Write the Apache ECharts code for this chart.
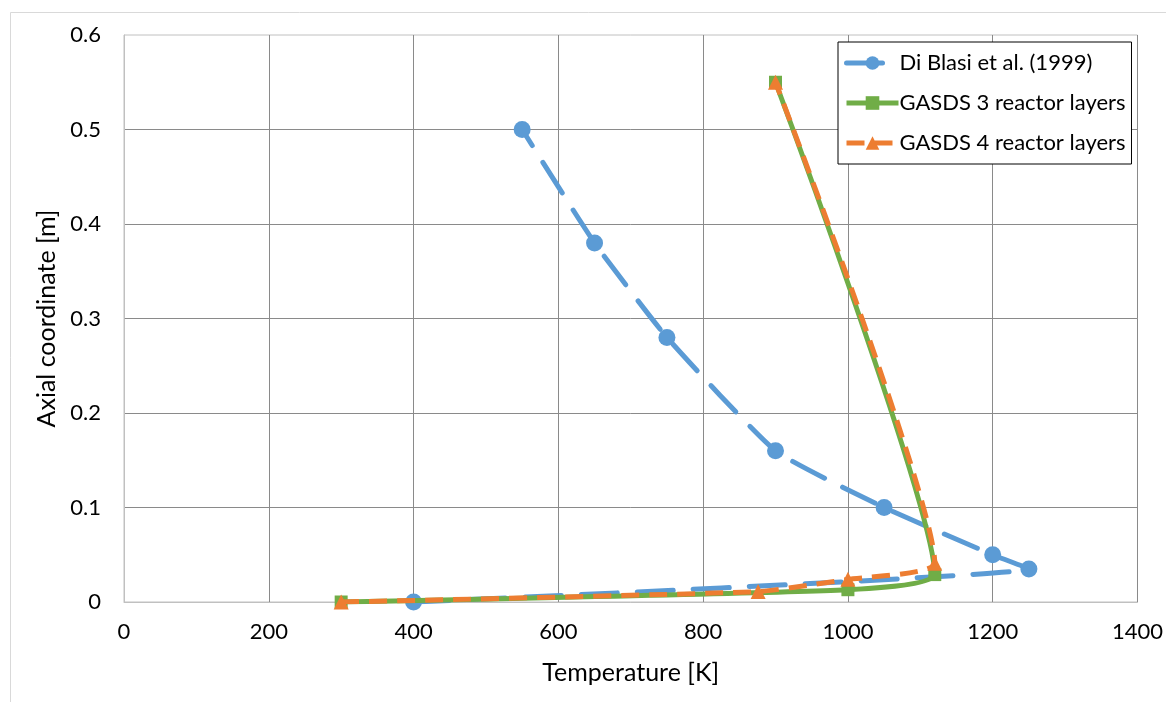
<!DOCTYPE html>
<html>
<head>
<meta charset="utf-8">
<script src="https://cdn.jsdelivr.net/npm/echarts@6/dist/echarts.min.js"></script>
<style>
html,body{margin:0;padding:0;background:#fff;}
#c{width:1166px;height:702px;}
</style>
</head>
<body>
<div id="c"></div>
<script>
// Data
const seriesNames = ['Di Blasi et al. (1999)', 'GASDS 3 reactor layers', 'GASDS 4 reactor layers'];
const diBlasiT = [400, 1250, 1200, 1050, 900, 750, 650, 550];
const diBlasiZ = [0, 0.035, 0.05, 0.1, 0.16, 0.28, 0.38, 0.5];
const gasds3T = [300, 1000, 1120, 900];
const gasds3Z = [0, 0.013, 0.029, 0.55];
const gasds4T = [300, 876, 1000, 1120, 900];
const gasds4Z = [0, 0.011, 0.024, 0.041, 0.55];
const xTicks = [0, 200, 400, 600, 800, 1000, 1200, 1400];
const yTicks = [0, 0.1, 0.2, 0.3, 0.4, 0.5, 0.6];

const zip = (a, b) => a.map((v, i) => [v, b[i]]);
const FONT = 'Lato';
const colors = ['#5B9BD5', '#70AD47', '#ED7D31'];
const dashes = [[36, 20], 'solid', [18, 10]];

const chart = echarts.init(document.getElementById('c'), null, {renderer: 'canvas'});
chart.setOption({
  backgroundColor: '#fff',
  animation: false,
  textStyle: {fontFamily: FONT},
  graphic: [{
    type: 'rect', left: 8, top: 10, shape: {width: 1300, height: 900},
    style: {fill: 'none', stroke: '#d9d9d9', lineWidth: 1}, z: -10
  }],
  grid: {left: 124, top: 35, width: 1016, height: 567, show: true, borderColor: '#c0c0c0', borderWidth: 1},
  legend: {
    orient: 'vertical', left: 838, top: 42,
    padding: [10, 6, 10, 6], itemGap: 18, itemWidth: 52, itemHeight: 17,
    borderColor: '#000', borderWidth: 1, backgroundColor: '#fff',
    textStyle: {fontFamily: FONT, fontSize: 22, color: '#000', padding: [0, 0, 0, -4]},
    data: seriesNames.map((n, i) => ({name: n, lineStyle: {width: 5, color: colors[i], type: dashes[i]}}))
  },
  xAxis: {
    type: 'value', min: xTicks[0], max: xTicks[xTicks.length - 1], interval: 200,
    name: 'Temperature [K]', nameLocation: 'middle', nameGap: 58,
    nameTextStyle: {fontFamily: FONT, fontSize: 25, color: '#000'},
    axisLine: {show: true, lineStyle: {color: '#c0c0c0'}},
    axisTick: {show: false},
    axisLabel: {fontFamily: FONT, fontSize: 22, color: '#000', margin: 19, formatter: v => String(v)},
    splitLine: {show: true, showMinLine: false, lineStyle: {color: '#8a8a8a', width: 1}}
  },
  yAxis: {
    type: 'value', min: yTicks[0], max: yTicks[yTicks.length - 1], interval: 0.1,
    name: 'Axial coordinate [m]', nameLocation: 'middle', nameGap: 64, nameRotate: 90,
    nameTextStyle: {fontFamily: FONT, fontSize: 25, color: '#000'},
    axisLine: {show: true, lineStyle: {color: '#c0c0c0'}},
    axisTick: {show: false},
    axisLabel: {fontFamily: FONT, fontSize: 22, color: '#000', margin: 23,
      formatter: v => (v === 0 ? '0' : v.toFixed(1))},
    splitLine: {show: true, showMinLine: false, showMaxLine: false, lineStyle: {color: '#8a8a8a', width: 1}}
  },
  series: [
    {
      name: seriesNames[0], type: 'line', data: zip(diBlasiT, diBlasiZ),
      symbol: 'circle', symbolSize: 17, smooth: 0.15,
      lineStyle: {color: colors[0], width: 5, type: dashes[0], cap: 'round'},
      itemStyle: {color: colors[0]}, z: 2
    },
    {
      name: seriesNames[1], type: 'line', data: zip(gasds3T, gasds3Z),
      symbol: 'rect', symbolSize: 13, smooth: 0.15,
      lineStyle: {color: colors[1], width: 5},
      itemStyle: {color: colors[1]}, z: 3
    },
    {
      name: seriesNames[2], type: 'line', data: zip(gasds4T, gasds4Z),
      symbol: 'triangle', symbolSize: 15, smooth: 0.15,
      lineStyle: {color: colors[2], width: 5, type: dashes[2]},
      itemStyle: {color: colors[2]}, z: 4
    }
  ]
});
</script>
</body>
</html>
